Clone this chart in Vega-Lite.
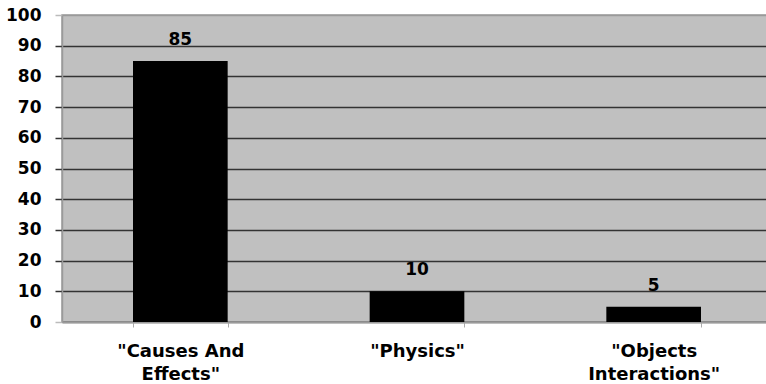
{
  "$schema": "https://vega.github.io/schema/vega-lite/v6.json",
  "autosize": "none",
  "width": 710,
  "height": 307,
  "padding": {"left": 62, "top": 15, "right": 0, "bottom": 62},
  "background": "white",
  "config": {
    "view": {"fill": "#c0c0c0", "stroke": "#9a9a9a", "strokeWidth": 1.5},
    "font": "DejaVu Sans"
  },
  "data": {
    "values": [
      {"category": "\"Causes And Effects\"", "value": 85},
      {"category": "\"Physics\"", "value": 10},
      {"category": "\"Objects Interactions\"", "value": 5}
    ]
  },
  "encoding": {
    "x": {
      "field": "category",
      "type": "nominal",
      "sort": null,
      "scale": {"paddingInner": 0.6, "paddingOuter": 0.3},
      "axis": {
        "title": null,
        "labelAngle": 0,
        "labelFont": "DejaVu Sans",
        "labelFontWeight": "bold",
        "labelFontSize": 18,
        "labelColor": "black",
        "labelPadding": 15,
        "labelLineHeight": 23,
        "labelExpr": "datum.value == '\"Causes And Effects\"' ? ['\"Causes And', 'Effects\"'] : datum.value == '\"Objects Interactions\"' ? ['\"Objects', 'Interactions\"'] : datum.value",
        "tickBand": "extent",
        "tickColor": "#aaaaaa",
        "tickSize": 5,
        "domainColor": "#9a9a9a",
        "domainWidth": 1.5,
        "grid": false
      }
    },
    "y": {
      "field": "value",
      "type": "quantitative",
      "scale": {"domain": [0, 100], "nice": false},
      "axis": {
        "title": null,
        "values": [0, 10, 20, 30, 40, 50, 60, 70, 80, 90, 100],
        "labelFont": "DejaVu Sans",
        "labelFontWeight": "bold",
        "labelFontSize": 17,
        "labelColor": "black",
        "labelPadding": 14,
        "tickColor": {"condition": {"test": "datum.value == 0 || datum.value == 100", "value": "#bbbbbb"}, "value": "#333333"},
        "tickSize": 7,
        "tickWidth": 1.5,
        "domainColor": "#9a9a9a",
        "domainWidth": 1.5,
        "gridColor": {"condition": {"test": "datum.value == 100", "value": "#9a9a9a"}, "value": "#333333"},
        "gridWidth": 1.5
      }
    }
  },
  "layer": [
    {"mark": {"type": "bar", "color": "black"}},
    {
      "mark": {"type": "text", "dy": -21, "font": "DejaVu Sans", "fontWeight": "bold", "fontSize": 17, "color": "black"},
      "encoding": {"text": {"field": "value", "type": "quantitative"}}
    }
  ]
}
